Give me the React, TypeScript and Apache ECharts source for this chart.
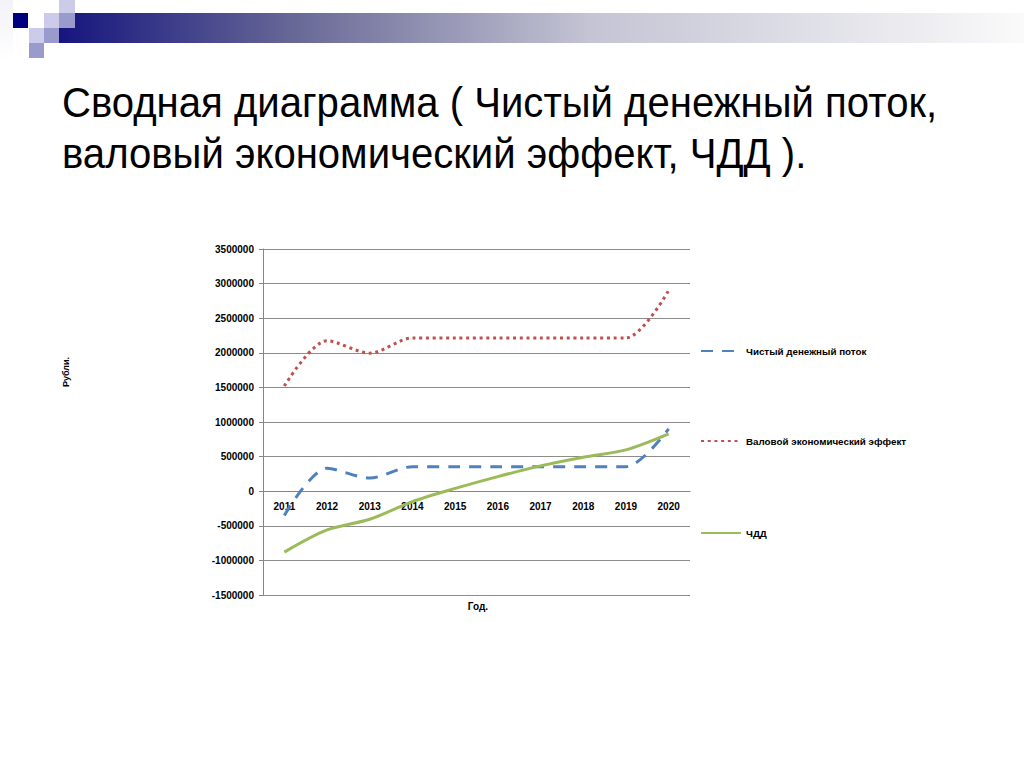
import { useEffect, useRef } from "react";
import * as echarts from "echarts";

const years = ["2011", "2012", "2013", "2014", "2015", "2016", "2017", "2018", "2019", "2020"];
const netCashFlow = [-350000, 330000, 190000, 355000, 355000, 355000, 355000, 355000, 355000, 900000];
const grossEffect = [1520000, 2175000, 1995000, 2215000, 2215000, 2215000, 2215000, 2215000, 2215000, 2900000];
const npv = [-880000, -560000, -405000, -150000, 40000, 211000, 366000, 491000, 597000, 828000];
const seriesNames = ["Чистый денежный поток", "Валовой экономический эффект", "ЧДД"];
const titleLines = ["Сводная диаграмма ( Чистый денежный поток,", "валовый экономический эффект, ЧДД )."];

const FONT = "'Liberation Sans', Arial, sans-serif";

export default function App() {
  const chartRef = useRef<HTMLDivElement>(null);

  useEffect(() => {
    if (!chartRef.current) return;
    const chart = echarts.init(chartRef.current, null, { renderer: "svg" });

    const light = "#ccccea";
    const mid = "#9a9acc";
    const navy = "#00007f";

    // plot box, in px
    const gridTop = 249;
    const gridHeight = 346;
    const yMin = -1500000;
    const yMax = 3500000;
    // x axis sits on the zero line
    const zeroOffset = -((0 - yMin) / (yMax - yMin)) * gridHeight;

    chart.setOption({
      animation: false,
      backgroundColor: "#ffffff",
      textStyle: { fontFamily: FONT },
      graphic: [
        // slide decoration
        {
          type: "rect",
          shape: { x: 0, y: 0, width: 13, height: 60 },
          style: {
            fill: new echarts.graphic.LinearGradient(0, 0, 0, 1, [
              { offset: 0, color: "#f2f2f8" },
              { offset: 1, color: "#ffffff" },
            ]),
          },
        },
        { type: "rect", shape: { x: 13, y: 13, width: 15, height: 15 }, style: { fill: navy } },
        { type: "rect", shape: { x: 44, y: 13, width: 15, height: 15 }, style: { fill: light } },
        { type: "rect", shape: { x: 59, y: 0, width: 16, height: 13 }, style: { fill: light } },
        { type: "rect", shape: { x: 29, y: 28, width: 15, height: 15 }, style: { fill: light } },
        { type: "rect", shape: { x: 44, y: 28, width: 15, height: 15 }, style: { fill: mid } },
        { type: "rect", shape: { x: 29, y: 43, width: 15, height: 15 }, style: { fill: mid } },
        {
          type: "rect",
          shape: { x: 59, y: 13, width: 965, height: 30 },
          z: 1,
          style: {
            fill: new echarts.graphic.LinearGradient(0, 0, 1, 0, [
              { offset: 0, color: "#15157e" },
              { offset: 0.25, color: "#6a6a98" },
              { offset: 0.55, color: "#c4c4d4" },
              { offset: 1, color: "#fafafa" },
            ]),
          },
        },
        {
          type: "rect",
          shape: { x: 59, y: 13, width: 16, height: 15 },
          z: 2,
          style: { fill: mid },
        },
        // title
        {
          type: "text",
          x: 62,
          y: 82,
          scaleX: 0.955,
          style: { text: titleLines[0], font: `42px ${FONT}`, fill: "#000000" },
        },
        {
          type: "text",
          x: 62,
          y: 133,
          scaleX: 0.955,
          style: { text: titleLines[1], font: `42px ${FONT}`, fill: "#000000" },
        },
        // axis names
        {
          type: "text",
          x: 66,
          y: 372,
          rotation: Math.PI / 2,
          style: {
            text: "Рубли.",
            font: `bold 9px ${FONT}`,
            fill: "#000000",
            align: "center",
            verticalAlign: "middle",
          },
        },
        {
          type: "text",
          x: 478,
          y: 606,
          style: {
            text: "Год.",
            font: `bold 10px ${FONT}`,
            fill: "#000000",
            align: "center",
            verticalAlign: "middle",
          },
        },
      ],
      grid: { left: 263, top: gridTop, width: 427, height: gridHeight, containLabel: false },
      legend: [0, 1, 2].map((i) => ({
        data: [seriesNames[i]],
        left: 695,
        top: [341, 431, 523][i],
        itemWidth: 40,
        itemHeight: 12,
        itemGap: 6,
        itemStyle: { opacity: 0 },
        textStyle: { fontFamily: FONT, fontWeight: "bold", fontSize: 9.8, color: "#000000" },
      })),
      xAxis: {
        type: "category",
        data: years,
        boundaryGap: true,
        offset: zeroOffset,
        axisLine: { onZero: false, lineStyle: { color: "#868686", width: 1 } },
        axisTick: { show: false },
        axisLabel: { fontFamily: FONT, fontWeight: "bold", fontSize: 10, color: "#000000", margin: 10 },
      },
      yAxis: {
        type: "value",
        min: yMin,
        max: yMax,
        interval: 500000,
        axisLine: { show: true, lineStyle: { color: "#868686", width: 1 } },
        axisTick: { show: true, length: 4, lineStyle: { color: "#868686" } },
        splitLine: { show: true, lineStyle: { color: "#8c8c8c", width: 1 } },
        axisLabel: {
          fontFamily: FONT,
          fontWeight: "bold",
          fontSize: 10,
          color: "#000000",
          margin: 9,
          formatter: (v: number) => String(v),
        },
      },
      series: [
        {
          name: seriesNames[0],
          type: "line",
          data: netCashFlow,
          smooth: 0.3,
          symbol: "none",
          lineStyle: { color: "#4f81bd", width: 3, type: [12, 9] },
          itemStyle: { color: "#4f81bd" },
        },
        {
          name: seriesNames[1],
          type: "line",
          data: grossEffect,
          smooth: 0.3,
          symbol: "none",
          lineStyle: { color: "#c0504d", width: 3, type: [3, 3.7] },
          itemStyle: { color: "#c0504d" },
        },
        {
          name: seriesNames[2],
          type: "line",
          data: npv,
          smooth: 0.3,
          symbol: "none",
          lineStyle: { color: "#9bbb59", width: 3 },
          itemStyle: { color: "#9bbb59" },
        },
      ],
    });

    return () => {
      chart.dispose();
    };
  }, []);

  return (
    <div
      ref={chartRef}
      style={{ position: "absolute", left: 0, top: 0, width: 1024, height: 767 }}
    />
  );
}
